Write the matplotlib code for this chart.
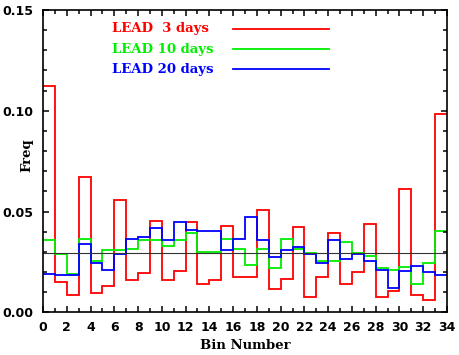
import numpy as np
import matplotlib
matplotlib.use('Agg')
import matplotlib.pyplot as plt

# frequency per bin (34 bins, 0..33)
lead3 = [0.1124, 0.0149, 0.0086, 0.0671, 0.0096, 0.0130, 0.0556, 0.0158, 0.0193, 0.0452,
         0.0160, 0.0204, 0.0446, 0.0140, 0.0158, 0.0427, 0.0175, 0.0176, 0.0506, 0.0117,
         0.0167, 0.0421, 0.0077, 0.0175, 0.0394, 0.0140, 0.0201, 0.0437, 0.0077, 0.0105,
         0.0610, 0.0087, 0.0061, 0.0985]
lead10 = [0.0358, 0.0289, 0.0191, 0.0366, 0.0255, 0.0307, 0.0307, 0.0315, 0.0360, 0.0358,
          0.0330, 0.0358, 0.0394, 0.0299, 0.0299, 0.0366, 0.0315, 0.0234, 0.0315, 0.0218,
          0.0366, 0.0315, 0.0295, 0.0255, 0.0255, 0.0350, 0.0295, 0.0279, 0.0218, 0.0209,
          0.0226, 0.0140, 0.0246, 0.0401]
lead20 = [0.0191, 0.0183, 0.0183, 0.0340, 0.0244, 0.0209, 0.0289, 0.0366, 0.0374, 0.0419,
          0.0358, 0.0446, 0.0409, 0.0401, 0.0401, 0.0307, 0.0366, 0.0472, 0.0358, 0.0272,
          0.0307, 0.0323, 0.0287, 0.0246, 0.0359, 0.0262, 0.0289, 0.0255, 0.0211, 0.0122,
          0.0203, 0.0228, 0.0201, 0.0185]
ref_level = 1.0 / 34

labels = ['LEAD  3 days', 'LEAD 10 days', 'LEAD 20 days']
colors = ['#ff0000', '#00ee00', '#0000ff']

edges = np.arange(len(lead3) + 1)

fig = plt.figure(figsize=(4.59, 3.55), dpi=100)
ax = fig.add_axes([0.0937, 0.1203, 0.8802, 0.8515])

for vals, c in zip([lead3, lead10, lead20], colors):
    ax.stairs(vals, edges, baseline=None, color=c, linewidth=1.3)

ax.axhline(ref_level, color='#333333', linewidth=0.8)

ax.set_xlim(0, 34)
ax.set_ylim(0, 0.15)

ax.set_xticks(np.arange(0, 35, 2))
ax.set_xticks(np.arange(1, 34, 2), minor=True)
ax.set_yticks([0, 0.05, 0.10, 0.15])
ax.set_yticks(np.arange(0, 0.151, 0.01), minor=True)
ax.set_yticklabels(['0.00', '0.05', '0.10', '0.15'])

ax.tick_params(which='both', direction='in', top=True, right=True, width=1.1)
ax.tick_params(which='major', length=4)
ax.tick_params(which='minor', length=3)
ax.tick_params(axis='x', pad=6)
ax.tick_params(axis='y', pad=7)
for lab in ax.get_xticklabels() + ax.get_yticklabels():
    lab.set_fontweight('bold')
    lab.set_fontsize(9)

for s in ax.spines.values():
    s.set_linewidth(1.2)

ax.set_xlabel('Bin Number', family='DejaVu Serif', fontweight='bold', fontsize=9.5, labelpad=4)
# y label sits in the tick-label column, like the original
fig.text(27 / 459, 1 - 155 / 355, 'Freq', rotation=90, ha='center', va='center',
         family='DejaVu Serif', fontweight='bold', fontsize=9.5)

# legend drawn by hand like the original
ys = [0.938, 0.871, 0.804]
for lab, c, y in zip(labels, colors, ys):
    ax.text(0.170, y, lab, transform=ax.transAxes, color=c, family='DejaVu Serif',
            fontweight='bold', fontsize=9.5, va='center', ha='left')
    ax.plot([0.47, 0.709], [y, y], transform=ax.transAxes, color=c, linewidth=1.3)

fig.savefig('out.png', dpi=100)
